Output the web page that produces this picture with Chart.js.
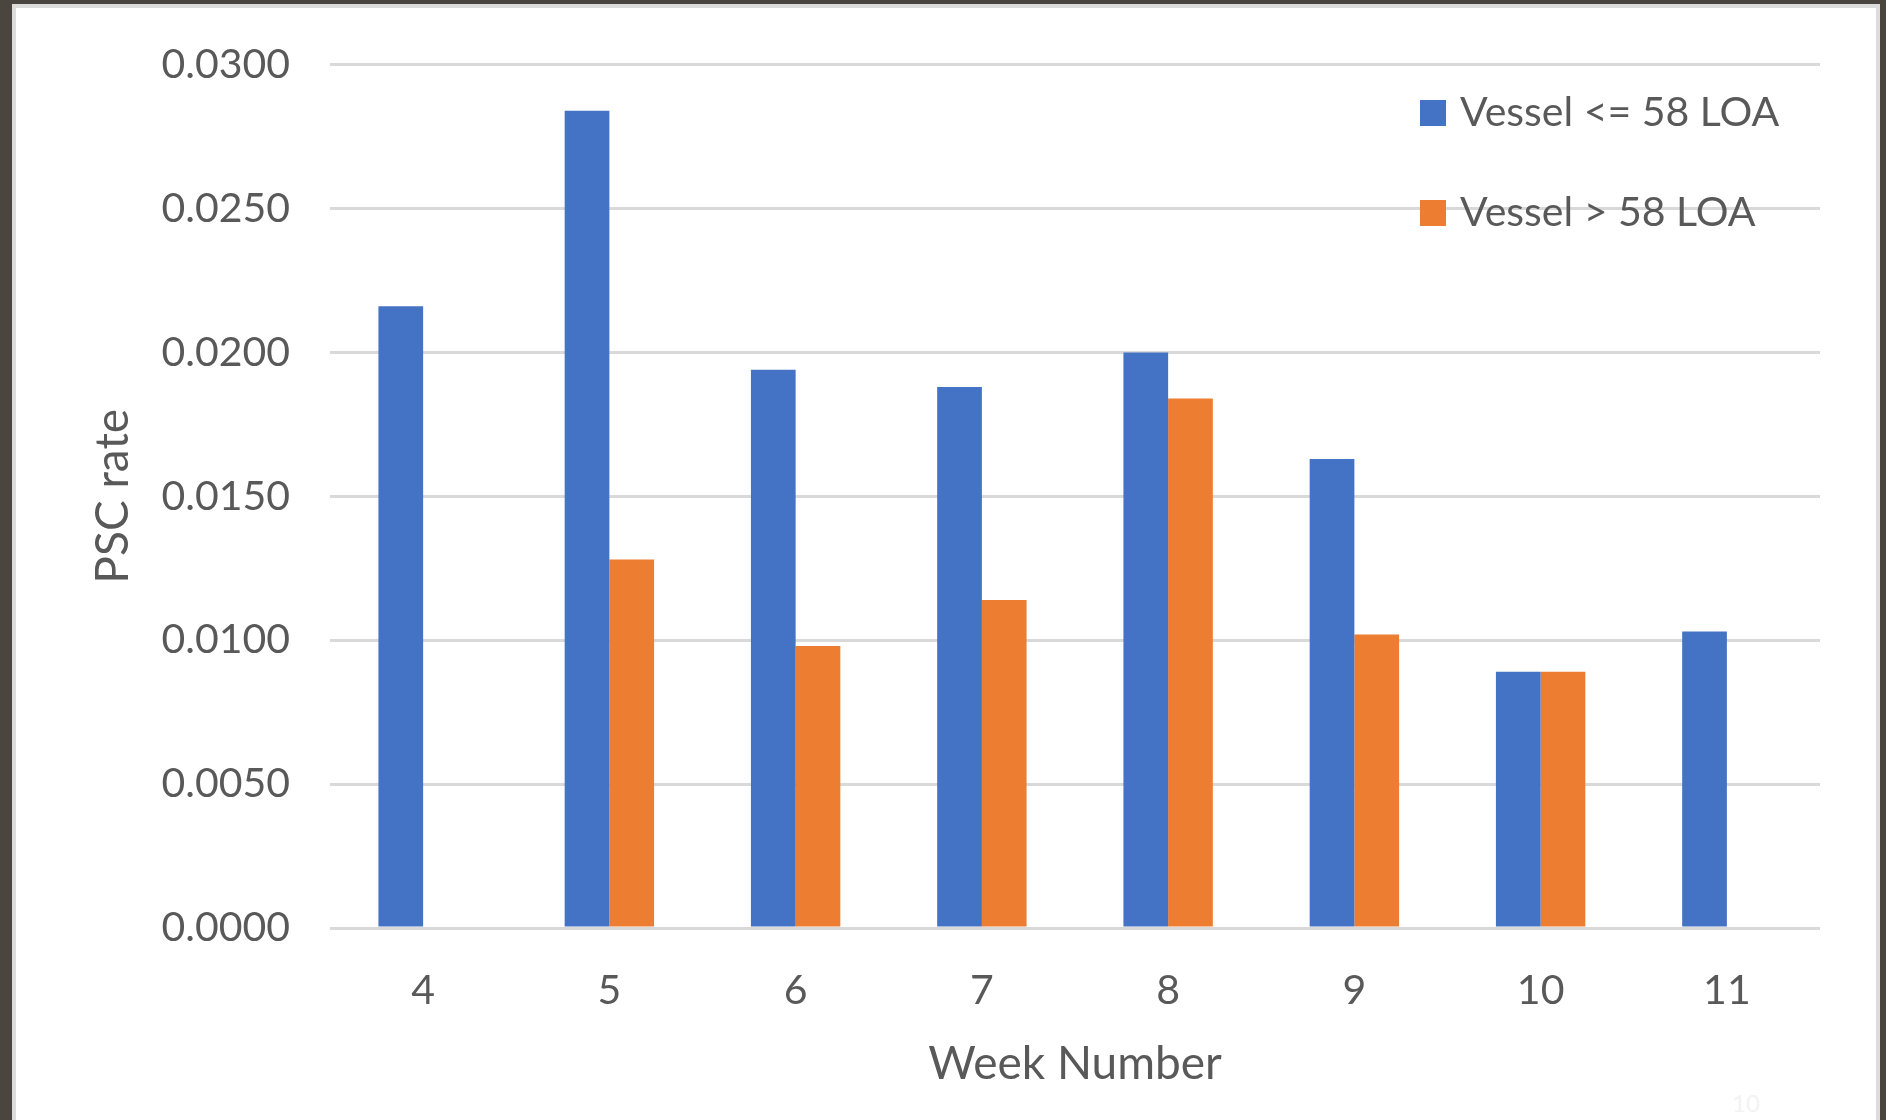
<!DOCTYPE html>
<html>
<head>
<meta charset="utf-8">
<script src="https://cdn.jsdelivr.net/npm/chart.js@4.4.1/dist/chart.umd.min.js"></script>
<style>
    html, body {
        margin: 0;
        padding: 0;
        width: 1886px;
        height: 1120px;
        overflow: hidden;
        background: #4a453f;
    }
    .slide {
        position: absolute;
        left: 12px;
        top: 4px;
        width: 1860px;
        height: 1120px;
        background: #ffffff;
        border: 4px solid #dcdcdc;
        border-bottom: none;
    }
    .page-num {
        position: absolute;
        left: 1732px;
        top: 1088px;
        font: 24px Lato, sans-serif;
        color: #f3f3f3;
    }
    #chartWrap {
        position: absolute;
        left: 0;
        top: 0;
        width: 1886px;
        height: 1120px;
    }
</style>
</head>
<body>
<div class="slide"></div>
<div class="page-num">10</div>
<div id="chartWrap"><canvas id="pscChart"></canvas></div>
<script>
const weeks = ['4', '5', '6', '7', '8', '9', '10', '11'];
const smallVessels = [0.0216, 0.0284, 0.0194, 0.0188, 0.0200, 0.0163, 0.0089, 0.0103];
const largeVessels = [null, 0.0128, 0.0098, 0.0114, 0.0184, 0.0102, 0.0089, null];
const seriesNames = ['Vessel <= 58 LOA', 'Vessel > 58 LOA'];
const seriesColors = ['#4472C4', '#ED7D31'];

const textColor = '#595959';
const fontFamily = 'Lato, "Open Sans", sans-serif';

// legend drawn inside the plot, top right, like the Excel chart
const cornerLegend = {
    id: 'cornerLegend',
    afterDraw(chart) {
        const ctx = chart.ctx;
        ctx.save();
        ctx.font = '41px ' + fontFamily;
        ctx.textBaseline = 'middle';
        ctx.textAlign = 'left';
        chart.data.datasets.forEach((ds, i) => {
            const y = 100 + i * 100;
            ctx.fillStyle = ds.backgroundColor;
            ctx.fillRect(1420, y, 26, 26);
            ctx.fillStyle = textColor;
            ctx.fillText(ds.label, 1460, y + 13);
        });
        ctx.restore();
    }
};

function initChart() {
    const ctx = document.getElementById('pscChart');

    new Chart(ctx, {
        type: 'bar',
        data: {
            labels: weeks,
            datasets: [
                {
                    label: seriesNames[0],
                    data: smallVessels,
                    backgroundColor: seriesColors[0],
                    borderWidth: 0
                },
                {
                    label: seriesNames[1],
                    data: largeVessels,
                    backgroundColor: seriesColors[1],
                    borderWidth: 0
                }
            ]
        },
        options: {
            responsive: true,
            maintainAspectRatio: false,
            animation: false,
            datasets: {
                bar: {
                    barPercentage: 1,
                    categoryPercentage: 0.48
                }
            },
            layout: {
                padding: { left: 0, right: 66, top: 63, bottom: 0 }
            },
            plugins: {
                legend: { display: false },
                tooltip: { enabled: false }
            },
            scales: {
                x: {
                    grid: { display: false },
                    border: { display: false },
                    ticks: {
                        color: textColor,
                        font: { family: fontFamily, size: 41 },
                        padding: 30
                    },
                    title: {
                        display: true,
                        text: 'Week Number',
                        color: textColor,
                        font: { family: fontFamily, size: 46 },
                        padding: { top: 0, bottom: 28 }
                    },
                    afterFit(scale) {
                        scale.height = 192;
                    }
                },
                y: {
                    min: 0,
                    max: 0.03,
                    border: { display: false },
                    grid: {
                        color: '#d9d9d9',
                        lineWidth: 3,
                        drawTicks: false
                    },
                    ticks: {
                        stepSize: 0.005,
                        color: textColor,
                        font: { family: fontFamily, size: 41 },
                        padding: 40,
                        callback: value => value.toFixed(4)
                    },
                    title: {
                        display: true,
                        text: 'PSC rate',
                        color: textColor,
                        font: { family: fontFamily, size: 46 },
                        padding: { top: 86, bottom: 0 }
                    },
                    afterFit(scale) {
                        scale.width = 330;
                    }
                }
            }
        },
        plugins: [cornerLegend]
    });
}

document.addEventListener('DOMContentLoaded', initChart);
</script>
</body>
</html>
